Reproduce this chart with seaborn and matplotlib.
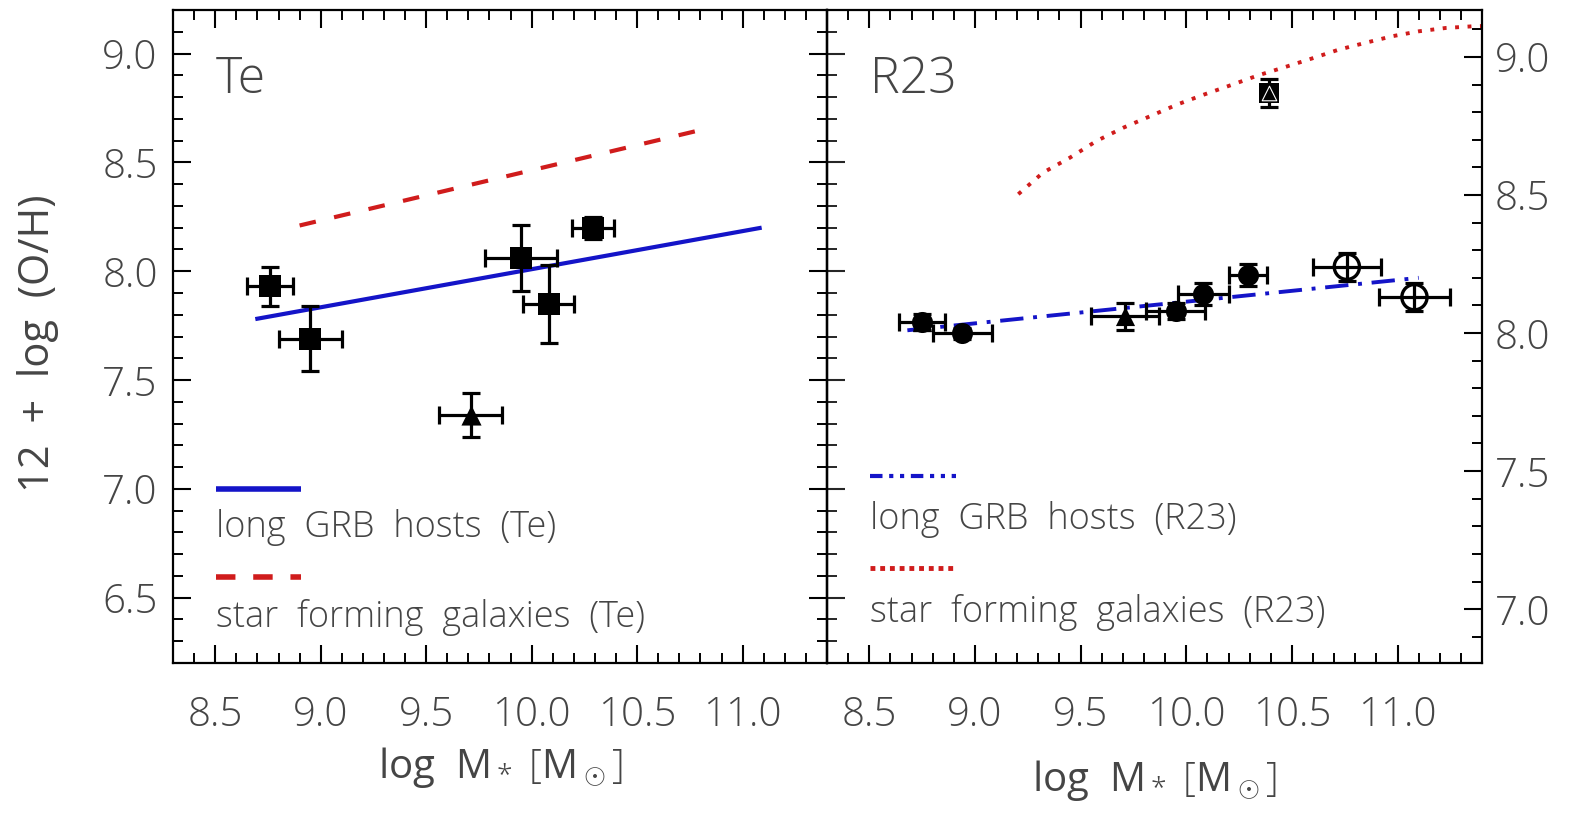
import matplotlib
matplotlib.use("Agg")
import matplotlib.pyplot as plt
from matplotlib.ticker import MultipleLocator, NullFormatter
import pandas as pd
import seaborn as sns

# ---- Te-based metallicities of long GRB hosts ----
te_mass = [8.76, 8.95, 9.95, 10.08, 10.29, 9.71]
te_mass_err = [0.11, 0.15, 0.17, 0.12, 0.10, 0.15]
te_oh = [7.93, 7.69, 8.06, 7.85, 8.20, 7.34]
te_oh_err = [0.09, 0.15, 0.15, 0.18, 0.05, 0.10]
te_kind = ["square", "square", "square", "square", "square", "triangle"]

# mass-metallicity relations (Te)
te_grb_fit_mass = [8.69, 11.09]
te_grb_fit_oh = [7.78, 8.20]
te_sf_fit_mass = [8.90, 10.85]
te_sf_fit_oh = [8.21, 8.66]

# ---- R23-based metallicities of long GRB hosts ----
r23_mass = [8.75, 8.94, 9.71, 9.95, 10.08, 10.29, 10.76, 11.08, 10.39]
r23_mass_err = [0.11, 0.14, 0.16, 0.14, 0.12, 0.09, 0.16, 0.17, 0.0]
r23_oh = [8.04, 8.00, 8.06, 8.08, 8.14, 8.21, 8.24, 8.13, 8.87]
r23_oh_err = [0.03, 0.02, 0.05, 0.03, 0.04, 0.04, 0.05, 0.05, 0.05]
r23_kind = ["triangle+circle", "circle", "triangle", "circle", "circle",
            "circle", "open", "open", "square+triangle"]

# mass-metallicity relations (R23)
r23_grb_fit_mass = [8.68, 11.10]
r23_grb_fit_oh = [8.01, 8.20]
r23_sf_mass = [9.205, 9.322, 9.449, 9.576, 9.703, 9.831, 9.958, 10.085, 10.212,
               10.339, 10.466, 10.593, 10.720, 10.847, 10.975, 11.102, 11.229,
               11.356, 11.40]
r23_sf_oh = [8.503, 8.581, 8.635, 8.696, 8.744, 8.786, 8.828, 8.864, 8.898,
             8.933, 8.963, 8.994, 9.026, 9.051, 9.075, 9.093, 9.105, 9.111, 9.112]

x_ticks = [8.5, 9.0, 9.5, 10.0, 10.5, 11.0]
x_tick_labels = ["8.5", "9.0", "9.5", "10.0", "10.5", "11.0"]
te_yticks = [6.5, 7.0, 7.5, 8.0, 8.5, 9.0]
r23_yticks = [7.0, 7.5, 8.0, 8.5, 9.0]

TEXT = "#454545"
BLUE = "#1414c8"
RED = "#d01c1c"

sns.set_style("ticks")
plt.rcParams["font.family"] = ["Open Sans", "DejaVu Sans"]
plt.rcParams["font.weight"] = "light"
plt.rcParams["mathtext.fontset"] = "custom"
plt.rcParams["mathtext.rm"] = "Open Sans:light"
plt.rcParams["mathtext.it"] = "Open Sans:light"

fig = plt.figure(figsize=(15.70, 8.13), dpi=100)
ax1 = fig.add_axes([0.1102, 0.1845, 0.4166, 0.8032])
ax2 = fig.add_axes([0.5268, 0.1845, 0.4172, 0.8032])
ax2.set_facecolor("none")

te = pd.DataFrame({"mass": te_mass, "oh": te_oh, "kind": te_kind})
r23 = pd.DataFrame({"mass": r23_mass, "oh": r23_oh, "kind": r23_kind})

ERR = dict(fmt="none", ecolor="black", elinewidth=2.3, capsize=6.5,
           capthick=2.3, zorder=3)


def points(ax, df, kinds, marker, size, face="black", edge="black", lw=0.0, z=4):
    sub = df[df["kind"].isin(kinds)]
    sns.scatterplot(data=sub, x="mass", y="oh", ax=ax, marker=marker, s=size,
                    color=face, edgecolor=edge, linewidth=lw, zorder=z,
                    legend=False)


def relation(ax, x, y, color, lw, dashes):
    sns.lineplot(x=x, y=y, ax=ax, color=color, linewidth=lw, estimator=None,
                 sort=False, zorder=2)
    line = ax.lines[-1]
    if dashes is not None:
        line.set_dashes(dashes)
    line.set_solid_capstyle("butt")
    line.set_dash_capstyle("butt")


# ---- left panel: Te ----
relation(ax1, te_grb_fit_mass, te_grb_fit_oh, BLUE, 3.0, None)
relation(ax1, te_sf_fit_mass, te_sf_fit_oh, RED, 3.0, (4, 4.5))
ax1.errorbar(te_mass, te_oh, xerr=te_mass_err, yerr=te_oh_err, **ERR)
points(ax1, te, ["square"], "s", 230)
points(ax1, te, ["triangle"], "^", 210)

# ---- right panel: R23 ----
relation(ax2, r23_grb_fit_mass, r23_grb_fit_oh, BLUE, 2.8, (6, 2.5, 1, 2.5))
relation(ax2, r23_sf_mass, r23_sf_oh, RED, 2.8, (1, 2.2))
ax2.errorbar(r23_mass, r23_oh, xerr=r23_mass_err, yerr=r23_oh_err, **ERR)
points(ax2, r23, ["circle", "triangle+circle"], "o", 230)
points(ax2, r23, ["triangle", "triangle+circle"], "^", 190, z=5)
points(ax2, r23, ["square+triangle"], "s", 210)
points(ax2, r23, ["square+triangle"], "^", 110, face="black", edge="white",
       lw=0.8, z=5)
points(ax2, r23, ["open"], "o", 330, face="none", edge="black", lw=2.4)

# ---- axes cosmetics ----
for ax in (ax1, ax2):
    ax.set_xlim(8.3, 11.4)
    ax.set_xticks(x_ticks)
    ax.set_xticklabels(x_tick_labels)
    ax.xaxis.set_minor_locator(MultipleLocator(0.1))
    ax.yaxis.set_minor_locator(MultipleLocator(0.1))
    for sp in ax.spines.values():
        sp.set_visible(True)
        sp.set_linewidth(1.6)
        sp.set_color("black")
    ax.tick_params(axis="both", which="major", direction="in", length=13,
                   width=1.5, color="black", top=True, labelsize=29,
                   labelcolor=TEXT)
    ax.tick_params(axis="both", which="minor", direction="in", length=7,
                   width=1.4, color="black", top=True)
    ax.tick_params(axis="x", which="major", pad=23)
    ax.set_xlabel(r"log  M$_*$ $[$M$_\odot]$", fontsize=29, color=TEXT)
    ax.set_ylabel("")

ax1.set_ylim(6.2, 9.2)
ax1.set_yticks(te_yticks)
ax1.set_yticklabels([f"{v:.1f}" for v in te_yticks])
ax1.tick_params(axis="y", which="both", left=True, right=True)
ax1.tick_params(axis="y", which="major", pad=11)
ax1.set_ylabel("12  +  log  (O/H)", fontsize=30, color=TEXT)
ax1.yaxis.set_label_coords(-0.175, 0.49)
ax1.xaxis.set_label_coords(0.5, -0.125)

# ticks of the shared border reaching into the R23 panel
sec = ax1.secondary_yaxis("right")
sec.yaxis.set_major_locator(MultipleLocator(0.5))
sec.yaxis.set_minor_locator(MultipleLocator(0.1))
sec.yaxis.set_major_formatter(NullFormatter())
sec.tick_params(which="major", direction="out", length=13, width=1.5)
sec.tick_params(which="minor", direction="out", length=7, width=1.4)
sec.spines["right"].set_linewidth(1.6)

ax2.set_ylim(6.805, 9.17)
ax2.set_yticks(r23_yticks)
ax2.set_yticklabels([f"{v:.1f}" for v in r23_yticks])
ax2.tick_params(axis="y", which="both", left=False, right=True,
                labelleft=False, labelright=True)
ax2.tick_params(axis="y", which="major", pad=9)
ax2.xaxis.set_label_coords(0.5, -0.145)

# ---- panel titles and in-panel keys ----
ax1.text(0.065, 0.893, "Te", transform=ax1.transAxes, fontsize=36,
         color=TEXT, va="center", ha="left")
ax2.text(0.066, 0.893, "R23", transform=ax2.transAxes, fontsize=36,
         color=TEXT, va="center", ha="left")

key = [
    (ax1, 0.065, 0.196, 0.266, 0.208, BLUE, None, 4.0,
     "long  GRB  hosts  (Te)"),
    (ax1, 0.065, 0.196, 0.132, 0.070, RED, (3.5, 3.2), 4.0,
     "star  forming  galaxies  (Te)"),
    (ax2, 0.066, 0.197, 0.286, 0.219, BLUE, (3, 1.6, 1, 1.6, 1, 1.6), 3.0,
     "long  GRB  hosts  (R23)"),
    (ax2, 0.066, 0.197, 0.145, 0.077, RED, (1, 1), 3.5,
     "star  forming  galaxies  (R23)"),
]
for ax, x0, x1, yl, yt, col, dash, lw, label in key:
    ln, = ax.plot([x0, x1], [yl, yl], transform=ax.transAxes, color=col,
                  lw=lw, solid_capstyle="butt", dash_capstyle="butt")
    if dash is not None:
        ln.set_dashes(dash)
    ax.text(x0, yt, label, transform=ax.transAxes, fontsize=26, color=TEXT,
            va="center", ha="left")

fig.savefig("out.png", dpi=100, facecolor="white")
